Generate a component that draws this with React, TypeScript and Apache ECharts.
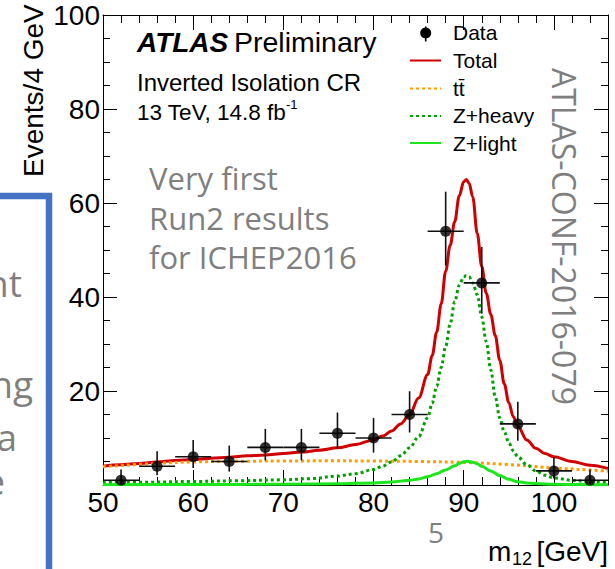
import React, { useEffect, useRef } from "react";
import * as echarts from "echarts";

// ---------- data ----------
const binCenters = [52, 56, 60, 64, 68, 72, 76, 80, 84, 88, 92, 96, 100, 104];
const dataCounts = [1, 4, 6, 5, 8, 8, 11, 10, 15, 54, 43, 13, 3, 1];
const errUp = [2.3, 3.16, 3.58, 3.38, 3.94, 3.94, 4.42, 4.27, 4.95, 8.4, 7.63, 4.71, 2.92, 2.3];
const errDown = [0.83, 1.91, 2.38, 2.16, 2.77, 2.77, 3.26, 3.11, 3.83, 7.32, 6.53, 3.56, 1.63, 0.83];
const binHalfWidth = 2;

const totalX = [50, 52, 54, 56, 58, 60, 62, 64, 66, 68, 70, 72, 74, 76, 78, 80, 81, 82, 83, 84, 85, 86, 86.5, 87, 87.5, 88, 88.5, 89, 89.5, 90, 90.3, 90.6, 91, 91.5, 92, 92.5, 93, 93.5, 94, 94.5, 95, 95.5, 96, 97, 98, 99, 100, 102, 104, 106];
const totalY = [4.0, 4.3, 4.6, 4.9, 5.2, 5.4, 5.7, 5.9, 6.2, 6.4, 6.7, 7.0, 7.4, 7.9, 8.6, 9.6, 10.4, 11.5, 13.0, 15.0, 18.5, 23.5, 27.5, 32.5, 38.5, 45.5, 51, 56, 61.5, 64.5, 65, 64.2, 61.3, 53.5, 46.5, 40.8, 36.3, 31.8, 26.5, 21.5, 17.5, 14.5, 12.5, 9.6, 7.8, 6.7, 6.0, 5.0, 4.2, 3.5];

const ttX = [50, 55, 60, 65, 70, 75, 80, 85, 90, 95, 100, 103, 106];
const ttY = [3.9, 4.5, 4.9, 5.05, 5.1, 5.15, 5.1, 5.0, 4.8, 4.35, 3.6, 3.3, 2.95];

const zhX = [50, 55, 60, 65, 70, 73, 76, 78, 80, 81, 82, 83, 84, 85, 86, 86.5, 87, 87.5, 88, 88.5, 89, 89.5, 90, 90.3, 90.6, 91, 91.5, 92, 92.5, 93, 93.5, 94, 94.5, 95, 95.5, 96, 97, 98, 99, 100, 102, 104, 106];
const zhY = [0.5, 0.6, 0.75, 0.9, 1.1, 1.35, 1.9, 2.4, 3.3, 4.0, 4.9, 6.2, 7.9, 10.3, 14.3, 17.4, 21, 25, 29.5, 34.3, 39, 42.5, 44.3, 44.6, 44.3, 43, 40.5, 35.8, 30.5, 24.5, 18.7, 14.3, 11.3, 9.0, 7.3, 6.0, 4.3, 3.0, 2.1, 1.5, 1.0, 0.7, 0.5];

const zlX = [50, 60, 70, 76, 80, 82, 84, 85, 86, 87, 88, 89, 89.5, 90, 90.4, 91, 91.5, 92, 93, 94, 95, 96, 97, 98, 100, 103, 106];
const zlY = [0.05, 0.1, 0.15, 0.25, 0.45, 0.65, 1.0, 1.3, 1.75, 2.4, 3.2, 4.1, 4.6, 4.95, 5.05, 4.85, 4.5, 4.0, 3.0, 2.0, 1.2, 0.7, 0.45, 0.3, 0.15, 0.08, 0.05];

const xMin = 50;
const xMax = 106;
const yMin = 0;
const yMax = 100;

const ROOT_FONT = '"Liberation Sans", Arial, Helvetica, sans-serif';
const SLIDE_FONT = '"Open Sans", "Noto Sans", sans-serif';
const GRAY = "#7f7f7f";

const pairs = (xs: number[], ys: number[]) => xs.map((x, i) => [x, ys[i]]);

export default function App() {
  const ref = useRef<HTMLDivElement>(null);

  useEffect(() => {
    if (!ref.current) return;
    const chart = echarts.init(ref.current, undefined, { renderer: "svg" });

    const axisLine = { show: true, lineStyle: { color: "#000", width: 1 } };
    const majorX = {
      type: "value", min: xMin, max: xMax, interval: 10,
      axisLine, splitLine: { show: false },
    };
    const minorX = {
      type: "value", min: xMin, max: xMax, interval: 2,
      axisLine: { show: false }, splitLine: { show: false }, axisLabel: { show: false },
      axisTick: { show: true, inside: true, length: 8, lineStyle: { color: "#000", width: 1 } },
    };

    const errData = binCenters.map((c, i) => [
      c, dataCounts[i], dataCounts[i] - errDown[i], dataCounts[i] + errUp[i], c - binHalfWidth, c + binHalfWidth,
    ]);

    const option: any = {
      animation: false,
      backgroundColor: "#fff",
      grid: { left: 103, right: 7, top: 15, bottom: 84, containLabel: false },
      xAxis: [
        {
          ...majorX, position: "bottom",
          axisTick: { show: true, inside: true, length: 15, lineStyle: { color: "#000", width: 1 } },
          axisLabel: {
            show: true, margin: 3, color: "#000", fontSize: 28, fontFamily: ROOT_FONT,
            formatter: (v: number) => (v % 10 === 0 ? String(v) : ""),
          },
        },
        { ...minorX, position: "bottom" },
        {
          ...majorX, position: "top", axisLabel: { show: false },
          axisTick: { show: true, inside: true, length: 15, lineStyle: { color: "#000", width: 1 } },
        },
        { ...minorX, position: "top" },
      ],
      yAxis: [
        {
          type: "value", min: yMin, max: yMax, interval: 20, position: "left",
          axisLine, splitLine: { show: false },
          axisTick: { show: true, inside: true, length: 14, lineStyle: { color: "#000" } },
          minorTick: { show: true, splitNumber: 4, length: 7, lineStyle: { color: "#000" } },
          minorSplitLine: { show: false },
          axisLabel: {
            show: true, margin: 3, color: "#000", fontSize: 28, fontFamily: ROOT_FONT,
            formatter: (v: number) => (v === 0 ? "" : String(v)),
          },
        },
        {
          type: "value", min: yMin, max: yMax, interval: 20, position: "right",
          axisLine, splitLine: { show: false },
          axisTick: { show: true, inside: true, length: 14, lineStyle: { color: "#000" } },
          minorTick: { show: true, splitNumber: 4, length: 7, lineStyle: { color: "#000" } },
          axisLabel: { show: false },
        },
      ],
      series: [
        {
          name: "Total", type: "line", data: pairs(totalX, totalY), showSymbol: false,
          smooth: 0.35, smoothMonotone: "x",
          lineStyle: { color: "#d00000", width: 3 }, z: 3,
        },
        {
          name: "ttbar", type: "line", data: pairs(ttX, ttY), showSymbol: false, smooth: 0.35,
          lineStyle: { color: "#ff9c00", width: 3, type: [3, 3] }, z: 4,
        },
        {
          name: "Z+heavy", type: "line", data: pairs(zhX, zhY), showSymbol: false,
          smooth: 0.35, smoothMonotone: "x",
          lineStyle: { color: "#00a000", width: 3, type: [3, 3] }, z: 5,
        },
        {
          name: "Z+light", type: "line", data: pairs(zlX, zlY), showSymbol: false,
          smooth: 0.35, smoothMonotone: "x",
          lineStyle: { color: "#1ee61e", width: 3 }, z: 6,
        },
        {
          name: "DataErr", type: "custom", data: errData, z: 7,
          encode: { x: 0, y: 1 },
          renderItem: (_p: any, api: any) => {
            const x = api.value(0), y = api.value(1);
            const lo = api.coord([x, api.value(2)]);
            const hi = api.coord([x, api.value(3)]);
            const l = api.coord([api.value(4), y]);
            const r = api.coord([api.value(5), y]);
            const st = { stroke: "#111", lineWidth: 1.6 };
            return {
              type: "group",
              children: [
                { type: "line", shape: { x1: lo[0], y1: lo[1], x2: hi[0], y2: hi[1] }, style: st },
                { type: "line", shape: { x1: l[0], y1: l[1], x2: r[0], y2: r[1] }, style: st },
              ],
            };
          },
        },
        {
          name: "Data", type: "scatter", data: pairs(binCenters, dataCounts),
          symbol: "circle", symbolSize: 11, itemStyle: { color: "#000" }, z: 8,
        },
      ],
      graphic: [
        // left slide box
        { type: "rect", shape: { x: -20, y: 196, width: 69, height: 420 }, style: { fill: "none", stroke: "#4472C4", lineWidth: 6.5 }, z: 1 },
        { type: "text", x: 22, y: 282, style: { text: "nt", fill: GRAY, font: `37px ${SLIDE_FONT}`, textAlign: "right", textVerticalAlign: "middle" } },
        { type: "text", x: 33, y: 383, style: { text: "ng", fill: GRAY, font: `37px ${SLIDE_FONT}`, textAlign: "right", textVerticalAlign: "middle" } },
        { type: "text", x: 17, y: 436, style: { text: "a", fill: GRAY, font: `37px ${SLIDE_FONT}`, textAlign: "right", textVerticalAlign: "middle" } },
        { type: "text", x: 5, y: 480, style: { text: "e", fill: GRAY, font: `37px ${SLIDE_FONT}`, textAlign: "right", textVerticalAlign: "middle" } },
        // axis titles
        { type: "text", x: 33, y: 177, rotation: Math.PI / 2, style: { text: "Events/4 GeV", fill: "#000", font: `28px ${ROOT_FONT}`, textAlign: "left", textVerticalAlign: "middle" } },
        { type: "text", x: 488, y: 551, style: { text: "m", fill: "#000", font: `28px ${ROOT_FONT}`, textAlign: "left", textVerticalAlign: "middle" } },
        { type: "text", x: 512, y: 559, style: { text: "12", fill: "#000", font: `18px ${ROOT_FONT}`, textAlign: "left", textVerticalAlign: "middle" } },
        { type: "text", x: 608, y: 551, style: { text: "[GeV]", fill: "#000", font: `28px ${ROOT_FONT}`, textAlign: "right", textVerticalAlign: "middle" } },
        // ATLAS labels
        { type: "text", x: 137, y: 42, style: { text: "ATLAS", fill: "#000", font: `italic bold 28px ${ROOT_FONT}`, textAlign: "left", textVerticalAlign: "middle" } },
        { type: "text", x: 234, y: 42, style: { text: "Preliminary", fill: "#000", font: `28.5px ${ROOT_FONT}`, textAlign: "left", textVerticalAlign: "middle" } },
        { type: "text", x: 137, y: 82, style: { text: "Inverted Isolation CR", fill: "#000", font: `24px ${ROOT_FONT}`, textAlign: "left", textVerticalAlign: "middle" } },
        { type: "text", x: 137, y: 112, style: { text: "13 TeV, 14.8 fb", fill: "#000", font: `22.5px ${ROOT_FONT}`, textAlign: "left", textVerticalAlign: "middle" } },
        { type: "text", x: 286, y: 104, style: { text: "-1", fill: "#000", font: `13px ${ROOT_FONT}`, textAlign: "left", textVerticalAlign: "middle" } },
        // legend
        { type: "line", shape: { x1: 425.7, y1: 26.5, x2: 425.7, y2: 41.5 }, style: { stroke: "#000", lineWidth: 1.6 } },
        { type: "circle", shape: { cx: 425.7, cy: 33, r: 5.5 }, style: { fill: "#000" } },
        { type: "text", x: 453, y: 32, style: { text: "Data", fill: "#000", font: `21px ${ROOT_FONT}`, textAlign: "left", textVerticalAlign: "middle" } },
        { type: "line", shape: { x1: 410, y1: 60.5, x2: 441, y2: 60.5 }, style: { stroke: "#d00000", lineWidth: 2 } },
        { type: "text", x: 453, y: 60, style: { text: "Total", fill: "#000", font: `21px ${ROOT_FONT}`, textAlign: "left", textVerticalAlign: "middle" } },
        { type: "line", shape: { x1: 410, y1: 88.5, x2: 441, y2: 88.5 }, style: { stroke: "#ff9c00", lineWidth: 2, lineDash: [3, 3] } },
        { type: "text", x: 453, y: 88, style: { text: "tt\u0304", fill: "#000", font: `21px ${ROOT_FONT}`, textAlign: "left", textVerticalAlign: "middle" } },
        { type: "line", shape: { x1: 410, y1: 116, x2: 441, y2: 116 }, style: { stroke: "#00a000", lineWidth: 2, lineDash: [3, 3] } },
        { type: "text", x: 453, y: 115.5, style: { text: "Z+heavy", fill: "#000", font: `21px ${ROOT_FONT}`, textAlign: "left", textVerticalAlign: "middle" } },
        { type: "line", shape: { x1: 410, y1: 143, x2: 441, y2: 143 }, style: { stroke: "#1ee61e", lineWidth: 2 } },
        { type: "text", x: 453, y: 143, style: { text: "Z+light", fill: "#000", font: `21px ${ROOT_FONT}`, textAlign: "left", textVerticalAlign: "middle" } },
        // slide overlays
        { type: "text", x: 149, y: 178, style: { text: "Very first", fill: GRAY, font: `31px ${SLIDE_FONT}`, textAlign: "left", textVerticalAlign: "middle" } },
        { type: "text", x: 149, y: 218, style: { text: "Run2 results", fill: GRAY, font: `31px ${SLIDE_FONT}`, textAlign: "left", textVerticalAlign: "middle" } },
        { type: "text", x: 149, y: 257, style: { text: "for ICHEP2016", fill: GRAY, font: `31px ${SLIDE_FONT}`, textAlign: "left", textVerticalAlign: "middle" } },
        { type: "text", x: 564, y: 68, rotation: -Math.PI / 2, style: { text: "ATLAS-CONF-2016-079", fill: GRAY, font: `32px ${SLIDE_FONT}`, textAlign: "left", textVerticalAlign: "middle" } },
        { type: "text", x: 436, y: 532, style: { text: "5", fill: GRAY, font: `28px ${SLIDE_FONT}`, textAlign: "center", textVerticalAlign: "middle" } },
      ],
    };

    chart.setOption(option);
    return () => chart.dispose();
  }, []);

  return <div ref={ref} style={{ width: 615, height: 569, position: "absolute", left: 0, top: 0 }} />;
}
